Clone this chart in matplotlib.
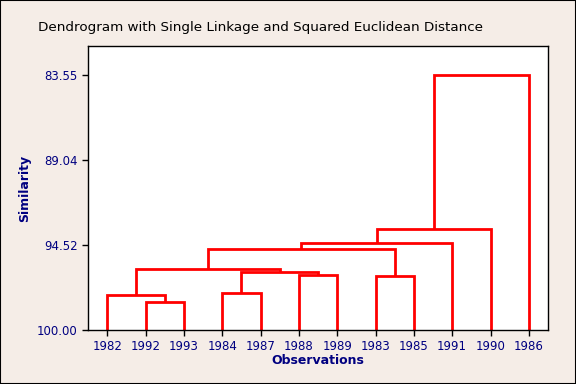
import matplotlib
matplotlib.use("Agg")
import matplotlib.pyplot as plt

# Data
labels = ["1982", "1992", "1993", "1984", "1987", "1988", "1989",
          "1983", "1985", "1991", "1990", "1986"]
# merges: (left item/cluster, right item/cluster, similarity)
# items 0..11 by leaf order; new clusters get ids 12, 13, ...
merges = [
    (1, 2, 98.17),
    (0, 12, 97.72),
    (3, 4, 97.59),
    (5, 6, 96.45),
    (7, 8, 96.52),
    (14, 15, 96.28),
    (13, 17, 96.06),
    (18, 16, 94.77),
    (19, 9, 94.39),
    (20, 10, 93.49),
    (21, 11, 83.55),
]
yticks = [83.55, 89.04, 94.52, 100.00]

bg = "#F5EDE7"
navy = "#000080"

fig = plt.figure(figsize=(5.76, 3.84), dpi=100, facecolor=bg)
ax = fig.add_axes([88/576, 1-330/384, (548-88)/576, (330-46)/384])
ax.set_facecolor("white")

pos = {i: (i + 1, 100.0) for i in range(len(labels))}
nid = len(labels)
for a, b, s in merges:
    xa, ya = pos[a]
    xb, yb = pos[b]
    ax.plot([xa, xa, xb, xb], [ya, s, s, yb], color="#FF0000", lw=2.0,
            solid_joinstyle="miter", solid_capstyle="butt")
    pos[nid] = ((xa + xb) / 2, s)
    nid += 1

ax.set_xlim(0.5, 12.5)
ax.set_ylim(100.0, 81.68)
ax.set_xticks(range(1, len(labels) + 1))
ax.set_xticklabels(labels)
ax.set_yticks(yticks)
ax.set_yticklabels([f"{v:.2f}" for v in yticks])
ax.tick_params(axis="both", direction="out", length=4, width=1, colors="black",
               labelcolor=navy, labelsize=8.5)
for sp in ax.spines.values():
    sp.set_color("black")
    sp.set_linewidth(1)

ax.set_xlabel("Observations", color=navy, fontsize=9, fontweight="bold")
ax.xaxis.set_label_coords(0.5, -(360 - 330) / 284, transform=ax.transAxes)
ax.xaxis.label.set_va("center")
ax.set_ylabel("Similarity", color=navy, fontsize=9, fontweight="bold")
ax.yaxis.set_label_coords((25 - 88) / 460, 0.5)
ax.yaxis.label.set_va("center")
fig.text(260/576, 1-27/384, "Dendrogram with Single Linkage and Squared Euclidean Distance",
         ha="center", va="center", fontsize=9.7, color="black")

# figure border
fig.patches.append(plt.Rectangle((0, 0), 1, 1, transform=fig.transFigure,
                                 fill=False, edgecolor="black", lw=1.5))

fig.savefig("out.png", dpi=100, facecolor=bg)
